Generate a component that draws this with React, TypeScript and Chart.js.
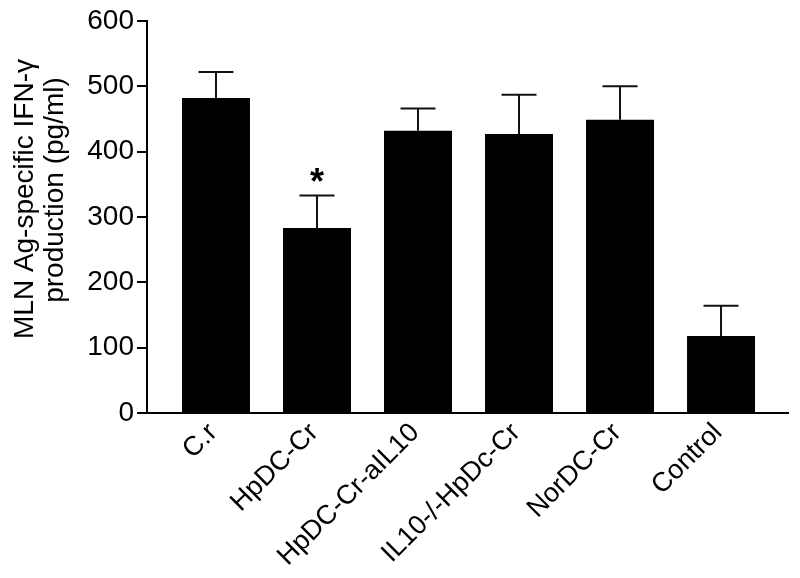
import React, { useEffect, useRef } from "react";
import { Chart, registerables } from "chart.js";

Chart.register(...registerables);

const categories = ["C.r", "HpDC-Cr", "HpDC-Cr-aIL10", "IL10-/-HpDc-Cr", "NorDC-Cr", "Control"];
const means = [482, 283, 432, 427, 449, 118];
const sems = [40, 50, 34, 60, 51, 46];
const marks = ["", "*", "", "", "", ""];
const yTicks = [0, 100, 200, 300, 400, 500, 600];
const yTitle = ["MLN Ag-specific IFN-γ", "production (pg/ml)"];

const FONT = "'Liberation Sans', Arial, Helvetica, sans-serif";

const errorBarPlugin = {
  id: "errorBars",
  afterDatasetsDraw(chart: any) {
    const { ctx, scales } = chart;
    const xs = scales.x;
    const ys = scales.y;
    ctx.save();
    ctx.strokeStyle = "#111";
    ctx.lineWidth = 2;
    means.forEach((m, i) => {
      const x = xs.getPixelForValue(i);
      const yb = ys.getPixelForValue(m);
      const yt = ys.getPixelForValue(m + sems[i]);
      ctx.beginPath();
      ctx.moveTo(x, yb);
      ctx.lineTo(x, yt);
      ctx.moveTo(x - 17.5, yt);
      ctx.lineTo(x + 17.5, yt);
      ctx.stroke();
      if (marks[i]) {
        ctx.fillStyle = "#000";
        ctx.font = `bold 36px ${FONT}`;
        ctx.textAlign = "center";
        ctx.textBaseline = "middle";
        ctx.fillText(marks[i], x, yt - 11);
      }
    });
    ctx.restore();
  },
};

const yTitlePlugin = {
  id: "yTitleDraw",
  afterDraw(chart: any) {
    const { ctx } = chart;
    ctx.save();
    ctx.fillStyle = "#000";
    ctx.font = `28px ${FONT}`;
    ctx.textAlign = "center";
    ctx.textBaseline = "alphabetic";
    const cys = [199, 190];
    const xs = [33, 62.5];
    yTitle.forEach((line, i) => {
      ctx.save();
      ctx.translate(xs[i], cys[i]);
      ctx.rotate(-Math.PI / 2);
      ctx.fillText(line, 0, 0);
      ctx.restore();
    });
    ctx.restore();
  },
};

export default function App() {
  const ref = useRef<HTMLCanvasElement | null>(null);
  useEffect(() => {
    document.body.style.margin = "0";
    const canvas = ref.current;
    if (!canvas) return;
    const chart = new Chart(canvas, {
      type: "bar",
      data: {
        datasets: [
          {
            data: means.map((v, i) => ({ x: i, y: v })),
            backgroundColor: "#000",
            borderWidth: 0,
            barPercentage: 0.673,
            categoryPercentage: 1,
          },
        ],
      },
      options: {
        animation: false,
        responsive: false,
        maintainAspectRatio: false,
        layout: { padding: { left: 0, right: 12, top: 21, bottom: 0 } },
        plugins: {
          legend: { display: false },
          tooltip: { enabled: false },
        },
        scales: {
          x: {
            type: "linear",
            offset: false,
            min: -0.683,
            max: 5.663,
            afterBuildTicks: (scale: any) => {
              scale.ticks = categories.map((_, i) => ({ value: i }));
            },
            afterFit: (scale: any) => {
              scale.height = 165;
            },
            grid: { display: false, drawTicks: false },
            border: { display: true, color: "#000", width: 2 },
            ticks: {
              autoSkip: false,
              minRotation: 45,
              maxRotation: 45,
              padding: 4,
              labelOffset: -3,
              color: "#000",
              font: { family: FONT, size: 27 },
              callback: (v: any) => categories[v as number] ?? "",
            },
          },
          y: {
            min: 0,
            max: 600,
            afterBuildTicks: (scale: any) => {
              scale.ticks = yTicks.map((v) => ({ value: v }));
            },
            afterFit: (scale: any) => {
              scale.width = 147;
            },
            grid: {
              display: true,
              drawOnChartArea: false,
              drawTicks: true,
              tickLength: 10,
              color: "#000",
              lineWidth: 2,
            },
            border: { display: true, color: "#000", width: 2 },
            ticks: {
              padding: 3,
              color: "#000",
              font: { family: FONT, size: 28 },
            },
          },
        },
      },
      plugins: [errorBarPlugin, yTitlePlugin],
    } as any);
    return () => chart.destroy();
  }, []);
  return (
    <div style={{ width: 800, height: 578 }}>
      <canvas ref={ref} width={800} height={578} style={{ display: "block" }} />
    </div>
  );
}
